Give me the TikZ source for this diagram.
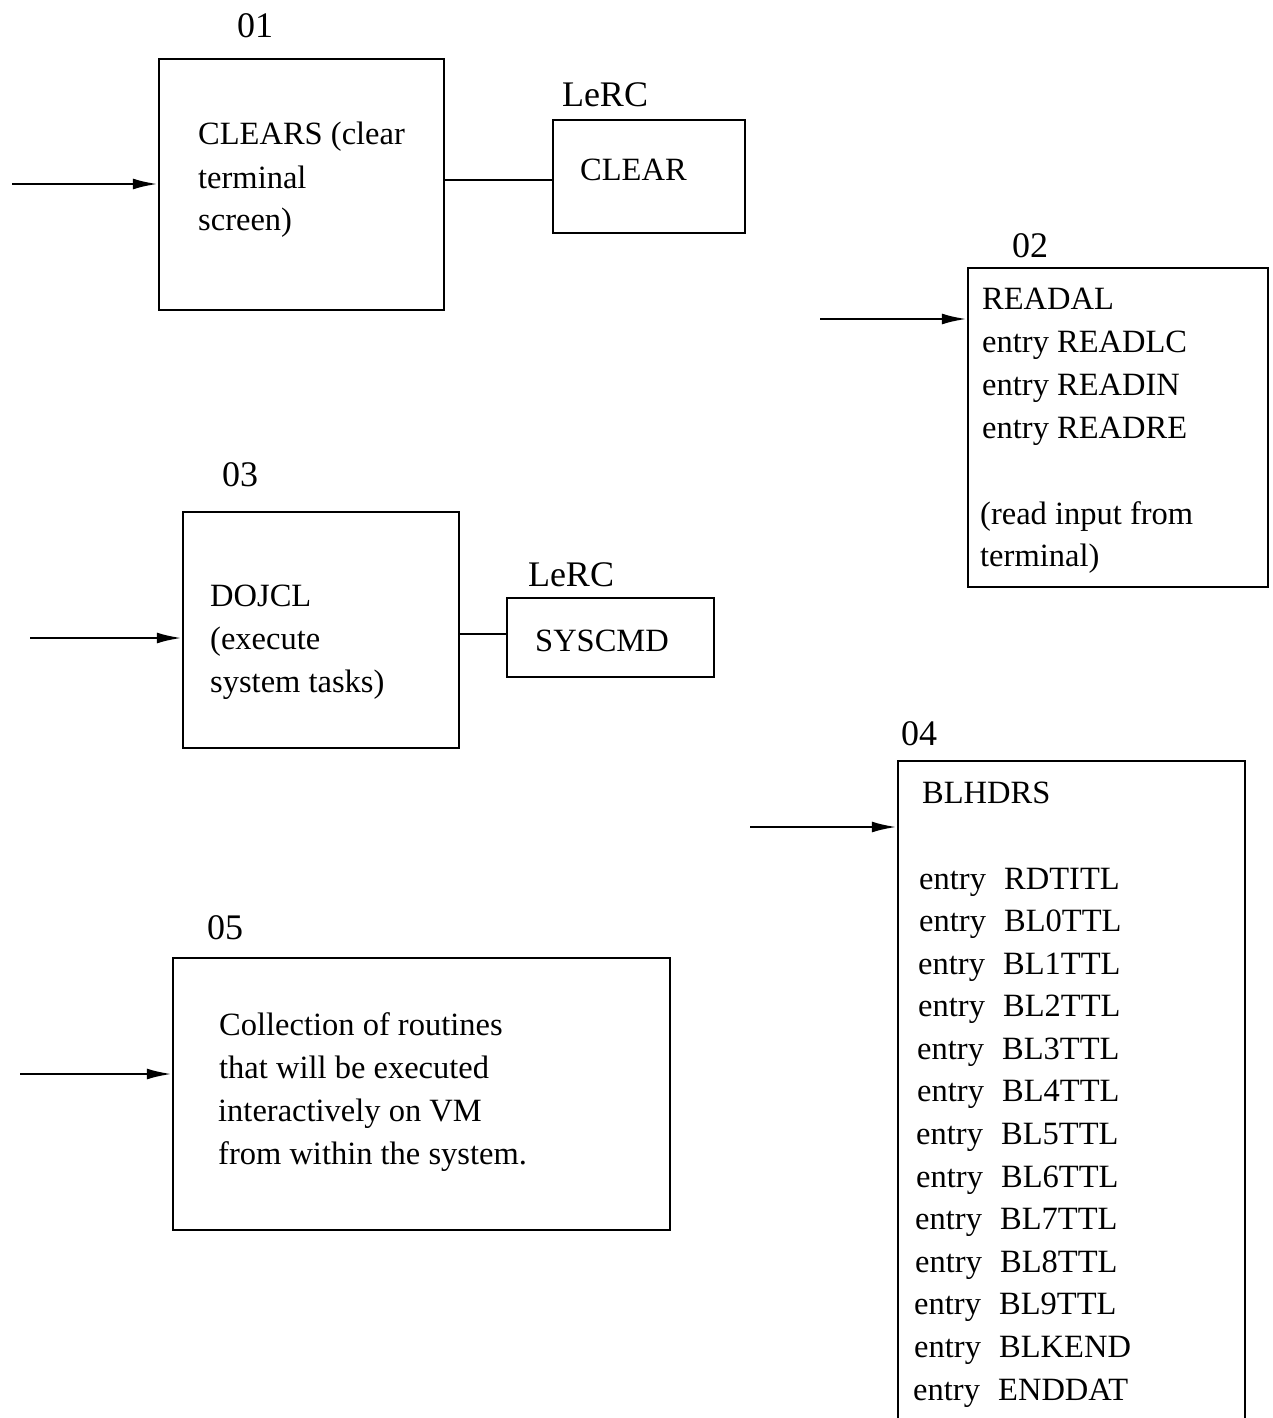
\documentclass[tikz,border=0pt]{standalone}
\usepackage{fontspec}
\setmainfont{Liberation Serif}
\usetikzlibrary{arrows.meta}
\tikzset{
  box/.style={draw, line width=2.5pt, inner sep=0pt},
  txt/.style={anchor=base west, inner sep=0pt, font=\fontsize{32.5}{43}\selectfont},
  lbl/.style={anchor=base, inner sep=0pt, font=\fontsize{36}{43}\selectfont},
  arr/.style={line width=2.5pt, -{Latex[length=25pt,width=11pt]}},
  con/.style={line width=2.5pt}
}
\newcommand{\ent}[1]{\makebox[85pt][l]{entry}#1}
\begin{document}
\begin{tikzpicture}[x=1pt,y=-1pt]
\useasboundingbox (0,0) rectangle (1272,1418);
% boxes
\node[box, minimum width=285pt, minimum height=251pt] (b01) at (301.5,184.5) {};
\node[box, minimum width=192pt, minimum height=113pt] (bclr) at (649,176.5) {};
\node[box, minimum width=300pt, minimum height=319pt] (b02) at (1118,427.5) {};
\node[box, minimum width=276pt, minimum height=236pt] (b03) at (321,630) {};
\node[box, minimum width=207pt, minimum height=79pt] (bsys) at (610.5,637.5) {};
\node[box, minimum width=347pt, minimum height=739pt] (b04) at (1071.5,1130.5) {};
\node[box, minimum width=497pt, minimum height=272pt] (b05) at (421.5,1094) {};
% labels
\node[lbl] (l01) at (255,38) {01};
\node[lbl] (lr1) at (605,107) {LeRC};
\node[lbl] (l02) at (1030,257) {02};
\node[lbl] (l03) at (240,486) {03};
\node[lbl] (lr2) at (571,586) {LeRC};
\node[lbl] (l04) at (919,745) {04};
\node[lbl] (l05) at (225,939) {05};
% texts 01
\node[txt] (t01a) at (198,145) {CLEARS (clear};
\node[txt] (t01b) at (198,188) {terminal};
\node[txt] (t01c) at (198,230) {screen)};
\node[txt] (tclr) at (580,180) {CLEAR};
% texts 02
\node[txt] (t02a) at (982,309) {READAL};
\node[txt] (t02b) at (982,352) {entry READLC};
\node[txt] (t02c) at (982,395) {entry READIN};
\node[txt] (t02d) at (982,438) {entry READRE};
\node[txt] (t02e) at (980,524) {(read input from};
\node[txt] (t02f) at (980,566) {terminal)};
% texts 03
\node[txt] (t03a) at (210,606) {DOJCL};
\node[txt] (t03b) at (210,649) {(execute};
\node[txt] (t03c) at (210,692) {system tasks)};
\node[txt] (tsys) at (535,651) {SYSCMD};
% texts 04
\node[txt] (t04h) at (922,803) {BLHDRS};
\node[txt] (e1) at (919,889) {\ent{RDTITL}};
\node[txt] (e2) at (919,931) {\ent{BL0TTL}};
\node[txt] (e3) at (918,974) {\ent{BL1TTL}};
\node[txt] (e4) at (918,1016) {\ent{BL2TTL}};
\node[txt] (e5) at (917,1059) {\ent{BL3TTL}};
\node[txt] (e6) at (917,1101) {\ent{BL4TTL}};
\node[txt] (e7) at (916,1144) {\ent{BL5TTL}};
\node[txt] (e8) at (916,1187) {\ent{BL6TTL}};
\node[txt] (e9) at (915,1229) {\ent{BL7TTL}};
\node[txt] (e10) at (915,1272) {\ent{BL8TTL}};
\node[txt] (e11) at (914,1314) {\ent{BL9TTL}};
\node[txt] (e12) at (914,1357) {\ent{BLKEND}};
\node[txt] (e13) at (913,1400) {\ent{ENDDAT}};
% texts 05
\node[txt] (t05a) at (219,1035) {Collection of routines};
\node[txt] (t05b) at (219,1078) {that will be executed};
\node[txt] (t05c) at (218,1121) {interactively on VM};
\node[txt] (t05d) at (218,1164) {from within the system.};
% connectors
\coordinate (in01) at (12,184);
\coordinate (in02) at (820,319);
\coordinate (in03) at (30,638);
\coordinate (in04) at (750,827);
\coordinate (in05) at (20,1074);
\draw[arr] (in01) -- (in01 -| b01.west);
\draw[arr] (in02) -- (in02 -| b02.west);
\draw[arr] (in03) -- (in03 -| b03.west);
\draw[arr] (in04) -- (in04 -| b04.west);
\draw[arr] (in05) -- (in05 -| b05.west);
\coordinate (j1) at (500,180);
\coordinate (j2) at (480,634);
\draw[con] (j1 -| b01.east) -- (j1 -| bclr.west);
\draw[con] (j2 -| b03.east) -- (j2 -| bsys.west);
\end{tikzpicture}
\end{document}
